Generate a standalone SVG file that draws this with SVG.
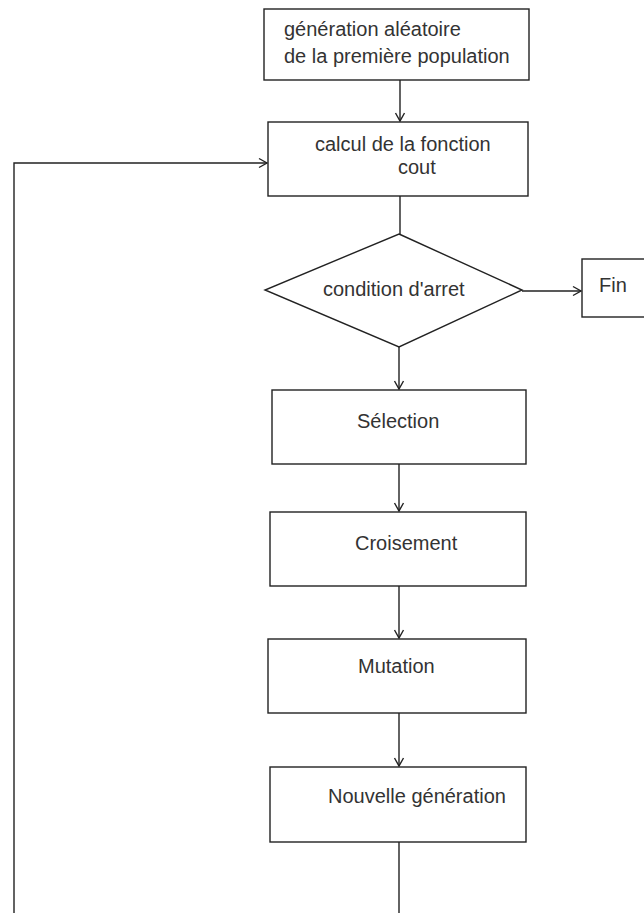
<svg xmlns="http://www.w3.org/2000/svg" width="644" height="913" viewBox="0 0 644 913">
<style>
.box{fill:#fff;stroke:#222;stroke-width:1.4}
.t{font-family:"Liberation Sans",Arial,sans-serif;font-size:20px;fill:#333}
.c{fill:none;stroke:#222;stroke-width:1.4}
</style>
<defs>
<marker id="ah" markerWidth="12" markerHeight="12" refX="10" refY="6" orient="auto" markerUnits="userSpaceOnUse">
<polyline points="2,1.5 10,6 2,10.5" fill="none" stroke="#222" stroke-width="1.4"/>
</marker>
</defs>
<rect width="644" height="913" fill="#fff"/>
<g id="connectors">
<line class="c" x1="400" y1="80" x2="400" y2="121" marker-end="url(#ah)"/>
<line class="c" x1="400" y1="196" x2="400" y2="234"/>
<line class="c" x1="522" y1="291" x2="581" y2="291" marker-end="url(#ah)"/>
<line class="c" x1="399" y1="347" x2="399" y2="389" marker-end="url(#ah)"/>
<line class="c" x1="399" y1="464" x2="399" y2="511" marker-end="url(#ah)"/>
<line class="c" x1="399" y1="586" x2="399" y2="638" marker-end="url(#ah)"/>
<line class="c" x1="399" y1="713" x2="399" y2="766" marker-end="url(#ah)"/>
<line class="c" x1="399" y1="842" x2="399" y2="913"/>
<polyline class="c" points="14,913 14,163 267,163" marker-end="url(#ah)"/>
</g>
<g id="init">
<rect class="box" x="264" y="9" width="265" height="71"/>
<text class="t" x="284" y="36">génération aléatoire</text>
<text class="t" x="284" y="63">de la première population</text>
</g>
<g id="cout">
<rect class="box" x="268" y="122" width="260" height="74"/>
<text class="t" x="315" y="151">calcul de la fonction</text>
<text class="t" x="398" y="174">cout</text>
</g>
<g id="condition">
<polygon class="box" points="399,234 522,290 399,347 265,290"/>
<text class="t" x="323" y="296">condition d'arret</text>
</g>
<g id="fin">
<rect class="box" x="582" y="259" width="70" height="58"/>
<text class="t" x="599" y="292">Fin</text>
</g>
<g id="selection">
<rect class="box" x="272" y="390" width="254" height="74"/>
<text class="t" x="357" y="428">Sélection</text>
</g>
<g id="croisement">
<rect class="box" x="270" y="512" width="256" height="74"/>
<text class="t" x="355" y="550">Croisement</text>
</g>
<g id="mutation">
<rect class="box" x="268" y="639" width="258" height="74"/>
<text class="t" x="358" y="673">Mutation</text>
</g>
<g id="nouvelle">
<rect class="box" x="270" y="767" width="256" height="75"/>
<text class="t" x="328" y="803">Nouvelle génération</text>
</g>
</svg>
